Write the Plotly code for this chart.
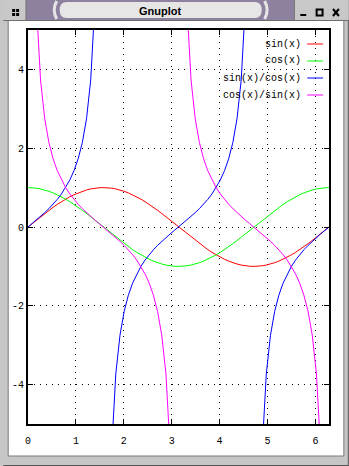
import plotly.graph_objects as go

# ---- data (x in radians, 5-degree steps) ----
x_vals = [0.0, 0.0873, 0.1745, 0.2618, 0.3491, 0.4363, 0.5236, 0.6109, 0.6981, 0.7854,
          0.8727, 0.9599, 1.0472, 1.1345, 1.2217, 1.3090, 1.3963, 1.4835, 1.5708, 1.6581,
          1.7453, 1.8326, 1.9199, 2.0071, 2.0944, 2.1817, 2.2689, 2.3562, 2.4435, 2.5307,
          2.6180, 2.7053, 2.7925, 2.8798, 2.9671, 3.0543, 3.1416, 3.2289, 3.3161, 3.4034,
          3.4907, 3.5779, 3.6652, 3.7525, 3.8397, 3.9270, 4.0143, 4.1015, 4.1888, 4.2761,
          4.3633, 4.4506, 4.5379, 4.6251, 4.7124, 4.7997, 4.8869, 4.9742, 5.0615, 5.1487,
          5.2360, 5.3233, 5.4105, 5.4978, 5.5851, 5.6723, 5.7596, 5.8469, 5.9341, 6.0214,
          6.1087, 6.1959, 6.2832]

sin_y = [0.0, 0.0872, 0.1736, 0.2588, 0.342, 0.4226, 0.5, 0.5736, 0.6428, 0.7071, 0.766, 0.8192, 0.866, 0.9063, 0.9397, 0.9659, 0.9848, 0.9962, 1.0,
         0.9962, 0.9848, 0.9659, 0.9397, 0.9063, 0.866, 0.8192, 0.766, 0.7071, 0.6428, 0.5736, 0.5, 0.4226, 0.342, 0.2588, 0.1736, 0.0872, 0.0,
         -0.0872, -0.1736, -0.2588, -0.342, -0.4226, -0.5, -0.5736, -0.6428, -0.7071, -0.766, -0.8192, -0.866, -0.9063, -0.9397, -0.9659, -0.9848, -0.9962, -1.0,
         -0.9962, -0.9848, -0.9659, -0.9397, -0.9063, -0.866, -0.8192, -0.766, -0.7071, -0.6428, -0.5736, -0.5, -0.4226, -0.342, -0.2588, -0.1736, -0.0872, 0.0]

cos_y = [1.0, 0.9962, 0.9848, 0.9659, 0.9397, 0.9063, 0.866, 0.8192, 0.766, 0.7071, 0.6428, 0.5736, 0.5, 0.4226, 0.342, 0.2588, 0.1736, 0.0872, 0.0,
         -0.0872, -0.1736, -0.2588, -0.342, -0.4226, -0.5, -0.5736, -0.6428, -0.7071, -0.766, -0.8192, -0.866, -0.9063, -0.9397, -0.9659, -0.9848, -0.9962, -1.0,
         -0.9962, -0.9848, -0.9659, -0.9397, -0.9063, -0.866, -0.8192, -0.766, -0.7071, -0.6428, -0.5736, -0.5, -0.4226, -0.342, -0.2588, -0.1736, -0.0872, 0.0,
         0.0872, 0.1736, 0.2588, 0.342, 0.4226, 0.5, 0.5736, 0.6428, 0.7071, 0.766, 0.8192, 0.866, 0.9063, 0.9397, 0.9659, 0.9848, 0.9962, 1.0]

tan_y = [0.0,
         0.0875, 0.1763, 0.2679, 0.364, 0.4663, 0.5774, 0.7002, 0.8391, 1.0, 1.1918, 1.4281, 1.7321, 2.1445, 2.7475, 3.7321, 5.6713, 11.4301,
         None,
         -11.4301, -5.6713, -3.7321, -2.7475, -2.1445, -1.7321, -1.4281, -1.1918, -1.0, -0.8391, -0.7002, -0.5774, -0.4663, -0.364, -0.2679, -0.1763, -0.0875,
         0.0,
         0.0875, 0.1763, 0.2679, 0.364, 0.4663, 0.5774, 0.7002, 0.8391, 1.0, 1.1918, 1.4281, 1.7321, 2.1445, 2.7475, 3.7321, 5.6713, 11.4301,
         None,
         -11.4301, -5.6713, -3.7321, -2.7475, -2.1445, -1.7321, -1.4281, -1.1918, -1.0, -0.8391, -0.7002, -0.5774, -0.4663, -0.364, -0.2679, -0.1763, -0.0875,
         0.0]

cot_y = [None,
         11.4301, 5.6713, 3.7321, 2.7475, 2.1445, 1.7321, 1.4281, 1.1918, 1.0, 0.8391, 0.7002, 0.5774, 0.4663, 0.364, 0.2679, 0.1763, 0.0875,
         0.0,
         -0.0875, -0.1763, -0.2679, -0.364, -0.4663, -0.5774, -0.7002, -0.8391, -1.0, -1.1918, -1.4281, -1.7321, -2.1445, -2.7475, -3.7321, -5.6713, -11.4301,
         None,
         11.4301, 5.6713, 3.7321, 2.7475, 2.1445, 1.7321, 1.4281, 1.1918, 1.0, 0.8391, 0.7002, 0.5774, 0.4663, 0.364, 0.2679, 0.1763, 0.0875,
         0.0,
         -0.0875, -0.1763, -0.2679, -0.364, -0.4663, -0.5774, -0.7002, -0.8391, -1.0, -1.1918, -1.4281, -1.7321, -2.1445, -2.7475, -3.7321, -5.6713, -11.4301,
         None]

series_names = ["sin(x)", "cos(x)", "sin(x)/cos(x)", "cos(x)/sin(x)"]
series_vals = [sin_y, cos_y, tan_y, cot_y]
series_colors = ["#ff0000", "#00ff00", "#0000ff", "#ff00ff"]

x_ticks = [0, 1, 2, 3, 4, 5, 6]
y_ticks = [-4, -2, 0, 2, 4]
x_range = [0, 6.2832]
y_range = [-5, 5]
window_title = "Gnuplot"

# ---- geometry ----
W, H = 349, 466
L, R, T, B = 25, 329, 30, 424
MONO = "Liberation Mono"


def px(x):
    return (x - L) / (R - L)


def py(y):
    return (B - y) / (B - T)


fig = go.Figure()
for name, vals, col in zip(series_names, series_vals, series_colors):
    fig.add_trace(go.Scatter(x=x_vals, y=vals, mode="lines", name=name,
                             line=dict(color=col, width=1), connectgaps=False,
                             hoverinfo="skip"))

shapes = []


def rect(x0, y0, x1, y1, fill, line=None, lw=0, layer="below"):
    shapes.append(dict(type="rect", xref="paper", yref="paper",
                       x0=px(x0), x1=px(x1), y0=py(y1), y1=py(y0),
                       fillcolor=fill, line=dict(color=line or fill, width=lw), layer=layer))


def seg(x0, y0, x1, y1, color, lw=1, layer="below"):
    shapes.append(dict(type="line", xref="paper", yref="paper",
                       x0=px(x0), x1=px(x1), y0=py(y0), y1=py(y1),
                       line=dict(color=color, width=lw), layer=layer))


# window frame
seg(0, 465.5, 349, 465.5, "#555555")
seg(348.5, 0, 348.5, 466, "#555555")
rect(5, 20.5, 344, 456, "#ffffff", "#7a7a7a", 1)
# title bar
rect(0, 0, 23, 20, "#c8c8c8", "#c8c8c8", 0)
rect(23, 0, 294, 20, "#8e819f", "#8e819f", 0)
rect(294, 0, 349, 20, "#c8c8c8", "#c8c8c8", 0)
seg(23, 0, 23, 20, "#6e6e6e")
seg(294, 0, 294, 20, "#6e6e6e")
seg(0, 20.5, 349, 20.5, "#6e6e6e")
# title lozenge
lx0, lx1, ly0, ly1 = 58, 260, 2, 18
path = (f"M {px(lx0+6)},{py(ly0)} L {px(lx1-6)},{py(ly0)} "
        f"Q {px(lx1+1)},{py(ly0)} {px(lx1+1)},{py((ly0+ly1)/2)} "
        f"Q {px(lx1+1)},{py(ly1)} {px(lx1-6)},{py(ly1)} "
        f"L {px(lx0+6)},{py(ly1)} "
        f"Q {px(lx0-1)},{py(ly1)} {px(lx0-1)},{py((ly0+ly1)/2)} "
        f"Q {px(lx0-1)},{py(ly0)} {px(lx0+6)},{py(ly0)} Z")
shapes.append(dict(type="path", xref="paper", yref="paper", path=path,
                   fillcolor="#e6e6e6", line=dict(color="#e6e6e6", width=0), layer="below"))
# parentheses marks
for (a, b) in [(54, 49), (264, 269)]:
    p = f"M {px(a)},{py(1)} Q {px(b)},{py(10)} {px(a)},{py(19)}"
    shapes.append(dict(type="path", xref="paper", yref="paper", path=p,
                       line=dict(color="#e6e6e6", width=3), layer="below"))
# left menu icon (four squares)
for dx in (9, 13):
    for dy in (9, 13):
        rect(dx, dy, dx + 3, dy + 3, "#000000")
# right buttons
rect(300, 14, 306, 16, "#000000")
rect(316.5, 9.5, 322.5, 15.5, "rgba(0,0,0,0)", "#000000", 2)
seg(333, 9, 339, 16, "#000000", 2)
seg(339, 9, 333, 16, "#000000", 2)

# legend
leg_rows = [44, 61, 78, 95]
annotations = []
for name, col, ry in zip(series_names, series_colors, leg_rows):
    annotations.append(dict(xref="paper", yref="paper", x=px(303), y=py(ry),
                            text=name, showarrow=False, xanchor="right", yanchor="middle",
                            font=dict(family=MONO, size=10, color="#000000")))
    seg(307, ry, 323, ry, col, 1, layer="above")

annotations.append(dict(xref="paper", yref="paper", x=px(158.5), y=py(10.5),
                        text=f"<b>{window_title}</b>", showarrow=False,
                        xanchor="center", yanchor="middle",
                        font=dict(family="Liberation Sans", size=11, color="#000000")))

axis_common = dict(showline=True, linecolor="#000000", linewidth=2, mirror="ticks",
                   ticks="inside", ticklen=5, tickwidth=1, tickcolor="#000000",
                   showgrid=True, gridcolor="#000000", gridwidth=1, griddash="1px,5px",
                   zeroline=False, tickfont=dict(family=MONO, size=10, color="#000000"))

fig.update_layout(
    width=W, height=H,
    margin=dict(l=L, r=W - R, t=T, b=H - B, pad=0),
    paper_bgcolor="#c6c6c6", plot_bgcolor="#ffffff",
    showlegend=False,
    xaxis=dict(range=x_range, tickvals=x_ticks, ticklabelstandoff=6, **axis_common),
    yaxis=dict(range=y_range, tickvals=y_ticks, ticktext=[str(v) for v in y_ticks], **axis_common),
    shapes=shapes, annotations=annotations,
)

fig.write_html("out.html", config={"displayModeBar": False})
